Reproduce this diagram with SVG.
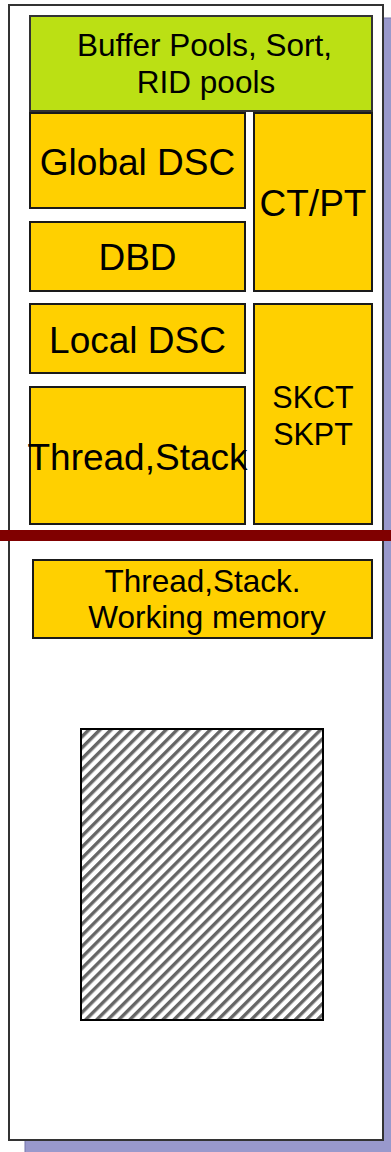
<svg xmlns="http://www.w3.org/2000/svg" width="391" height="1152" viewBox="0 0 391 1152">
<style>
.box{fill:#ffd000;stroke:#1a1a1a;stroke-width:2}
.g{fill:#bbe014;stroke:#333;stroke-width:2}
text{font-family:"Liberation Sans",Arial,sans-serif;fill:#000;text-anchor:middle}
</style>
<defs>
<pattern id="hatch" patternUnits="userSpaceOnUse" width="7.8" height="10" patternTransform="rotate(45)">
<rect width="7.8" height="10" fill="#fff"/>
<rect x="0" y="0" width="3.4" height="10" fill="#666"/>
</pattern>
</defs>
<rect x="0" y="0" width="391" height="1152" fill="#fff"/>
<rect id="shadow" x="25" y="18" width="370" height="1140" fill="#9999cc" stroke="#7777aa" stroke-width="1"/>
<rect id="frame" x="9" y="5" width="374" height="1135" fill="#fff" stroke="#333" stroke-width="2"/>
<g id="buffer"><rect class="g" x="30" y="16" width="342" height="95"/>
<text x="204.5" y="56" font-size="31.5">Buffer Pools, Sort,</text>
<text x="206" y="93" font-size="31.5">RID pools</text></g>
<g id="globaldsc"><rect class="box" x="30" y="113" width="215" height="95"/>
<text x="137.5" y="175" font-size="37">Global DSC</text></g>
<g id="ctpt"><rect class="box" x="254" y="113" width="118" height="178"/>
<text x="313" y="216" font-size="37">CT/PT</text></g>
<g id="dbd"><rect class="box" x="30" y="222" width="215" height="69"/>
<text x="137.5" y="270" font-size="37">DBD</text></g>
<g id="localdsc"><rect class="box" x="30" y="304" width="215" height="69"/>
<text x="137.5" y="353" font-size="37">Local DSC</text></g>
<g id="threadstack"><rect class="box" x="30" y="387" width="215" height="137"/>
<text x="137.5" y="470" font-size="37">Thread,Stack</text></g>
<g id="skct"><rect class="box" x="254" y="304" width="118" height="220"/>
<text x="313" y="408" font-size="30.5">SKCT</text>
<text x="313" y="445" font-size="30.5">SKPT</text></g>
<rect id="divider" x="0" y="530" width="391" height="11" fill="#800000"/>
<g id="working"><rect class="box" x="33" y="560" width="339" height="78"/>
<text x="202.5" y="592" font-size="31.5">Thread,Stack.</text>
<text x="207" y="628" font-size="31.5">Working memory</text></g>
<g id="hatched"><rect x="81" y="729" width="242" height="291" fill="url(#hatch)" stroke="#000" stroke-width="2"/></g>
<g id="connectors"/>
</svg>
